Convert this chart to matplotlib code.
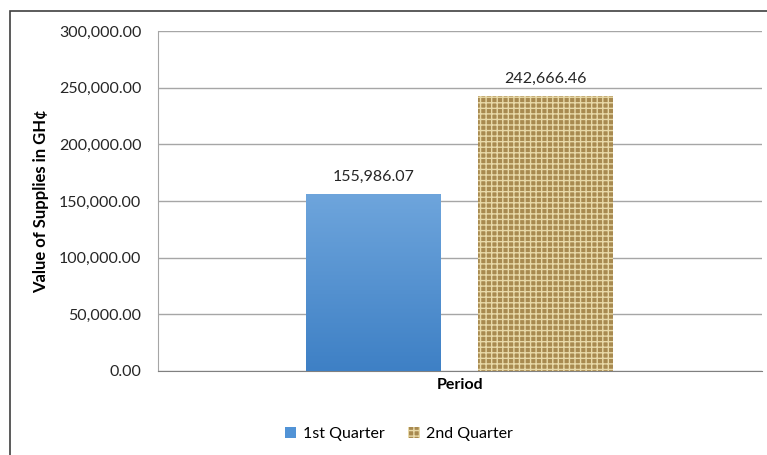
import matplotlib.pyplot as plt
import numpy as np
from matplotlib.patches import Rectangle
from matplotlib.ticker import FuncFormatter

plt.rcParams['font.family'] = ['Lato', 'DejaVu Sans']

series = ['1st Quarter', '2nd Quarter']
values = [155986.07, 242666.46]
offsets = [-0.143, 0.141]
y_ticks = [0, 50000, 100000, 150000, 200000, 250000, 300000]

fig = plt.figure(figsize=(7.67, 4.55), dpi=100)
W, H = 767, 455
ax = fig.add_axes([158 / W, 1 - 371 / H, (762 - 158) / W, (371 - 31) / H])

# outer chart border
fig.add_artist(Rectangle((10 / W, -0.1), 1.2, 1 - 11 / H + 0.1, transform=fig.transFigure,
                         fill=False, edgecolor='#404040', linewidth=1.2))

width = 0.2235
b1 = ax.bar(offsets[0], values[0], width, color='#5193d6', label=series[0], zorder=3)
b2 = ax.bar(offsets[1], values[1], width, color='#a88a50', edgecolor='#e8d9a8',
            hatch='+++', linewidth=0, label=series[1], zorder=3)

# gradient on blue bar
bar = b1[0]
grad = np.linspace(0, 1, 256).reshape(-1, 1)
im = ax.imshow(grad, cmap=plt.matplotlib.colors.LinearSegmentedColormap.from_list(
    'g', ['#3e80c5', '#6ea5dc']), origin='lower', aspect='auto',
    extent=[bar.get_x(), bar.get_x() + bar.get_width(), 0, bar.get_height()], zorder=3)
im.set_clip_path(bar)

ax.set_xlim(-0.5, 0.5)
ax.set_ylim(0, 300000)
ax.set_yticks(y_ticks)
ax.yaxis.set_major_formatter(FuncFormatter(lambda v, p: f'{v:,.2f}'))
ax.set_xticks([])
ax.grid(axis='y', color='#a6a6a6', linewidth=1, zorder=0)
ax.tick_params(axis='y', length=0, pad=12, labelsize=11.5, labelcolor='#262626')
for s in ['top', 'right']:
    ax.spines[s].set_visible(False)
ax.spines['left'].set_color('#a6a6a6')
ax.spines['bottom'].set_color('#808080')

for x, v in zip(offsets, values):
    ax.text(x, v + 9000, f'{v:,.2f}', ha='center', va='bottom', fontsize=11.5, color='#262626')

ax.set_ylabel('Value of Supplies in GH¢', fontsize=12, fontweight='bold', labelpad=7)
ax.set_xlabel('Period', fontsize=11.5, fontweight='bold', labelpad=5)

fig.legend(loc='center', bbox_to_anchor=(399 / W, 1 - 434 / H), ncol=2, frameon=False,
           fontsize=11.5, handlelength=0.7, handleheight=0.7, columnspacing=1.5, handletextpad=0.4)

plt.savefig('out.png', dpi=100)
